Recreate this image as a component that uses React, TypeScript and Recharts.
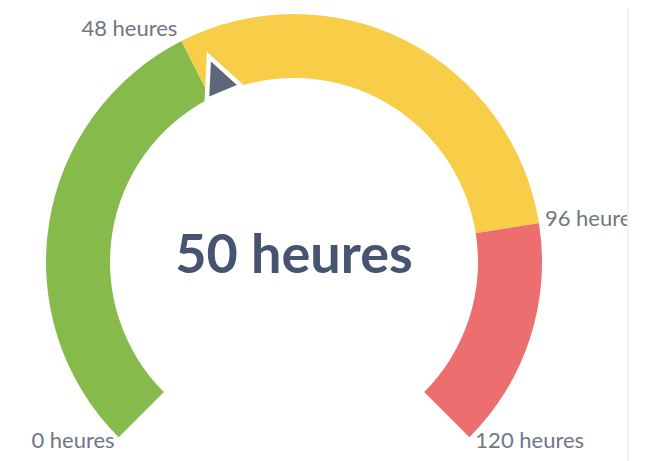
import { PieChart, Pie, Cell, Customized } from "recharts";

// gauge zones (hours)
const zoneNames = ["ok", "warning", "late"];
const zoneSizes = [48, 48, 24];
const zoneColors = ["#86bb4c", "#f8cd47", "#ec6e6e"];
const tickValues = [0, 48, 96, 120];
const tickLabels = ["0 heures", "48 heures", "96 heures", "120 heures"];
const currentValue = 50;
const unit = "heures";

const MAX = 120;
const START = 225;
const END = -45;
const CX = 286;
const CY = 254;
const INNER = 184;
const OUTER = 248;
const W = 619;
const H = 453;

const data = zoneNames.map((name, i) => ({ name, value: zoneSizes[i] }));

const toAngle = (v: number) => START + (v / MAX) * (END - START);
const polar = (r: number, deg: number) => {
  const rad = (deg * Math.PI) / 180;
  return { x: CX + r * Math.cos(rad), y: CY - r * Math.sin(rad) };
};

function Ticks() {
  return (
    <g>
      {tickValues.map((v, i) => {
        const a = toAngle(v);
        const p = polar(OUTER, a);
        const left = Math.cos((a * Math.PI) / 180) < 0;
        const dy = 4 - 10 * Math.sin((a * Math.PI) / 180);
        return (
          <text
            key={v}
            x={p.x + (left ? -4 : 6)}
            y={p.y + dy}
            textAnchor={left ? "end" : "start"}
            fill="#6f7785"
            fontSize={22}
            fontFamily="Lato"
          >
            {tickLabels[i]}
          </text>
        );
      })}
    </g>
  );
}

// pointer + value, drawn on top of the pie
function Needle() {
  const a = toAngle(currentValue);
  const tip = polar(217, a);
  const b1 = polar(186, a + 4.6);
  const b2 = polar(186, a - 4.6);
  return (
    <svg
      width={W}
      height={H}
      style={{ position: "absolute", left: 0, top: 0, pointerEvents: "none" }}
    >
      <polygon
        points={`${tip.x},${tip.y} ${b1.x},${b1.y} ${b2.x},${b2.y}`}
        fill="#5d6579"
        stroke="#ffffff"
        strokeWidth={9}
        strokeLinejoin="miter"
        style={{ paintOrder: "stroke" }}
      />
      <text
        x={CX}
        y={CY + 11}
        textAnchor="middle"
        fill="#475470"
        fontSize={54}
        fontWeight={700}
        fontFamily="Lato"
      >
        {currentValue} {unit}
      </text>
    </svg>
  );
}

export default function App() {
  return (
    <div
      style={{
        position: "relative",
        width: W,
        height: H,
        overflow: "hidden",
        borderRight: "2px solid #f3f3f3",
        background: "#fff",
      }}
    >
      <PieChart width={W} height={H} margin={{ top: 0, right: 0, bottom: 0, left: 0 }}>
        <Pie
          data={data}
          dataKey="value"
          cx={CX}
          cy={CY}
          startAngle={START}
          endAngle={END}
          innerRadius={INNER}
          outerRadius={OUTER}
          stroke="none"
          isAnimationActive={false}
        >
          {data.map((d, i) => (
            <Cell key={d.name} fill={zoneColors[i]} />
          ))}
        </Pie>
        <Customized component={Ticks} />
      </PieChart>
      <Needle />
    </div>
  );
}
